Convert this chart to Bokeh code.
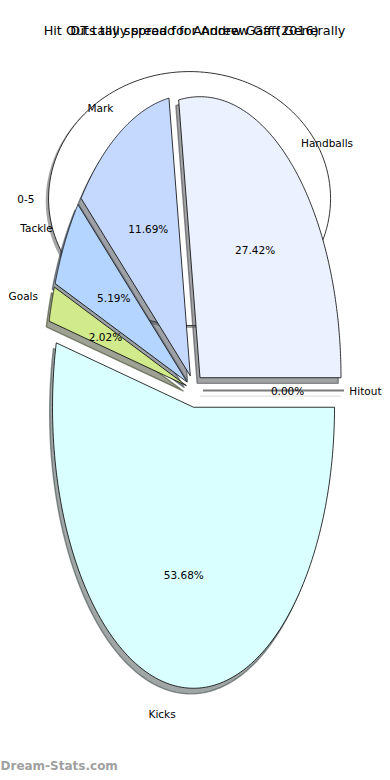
import numpy as np
from bokeh.plotting import figure
from bokeh.models import ColumnDataSource, Range1d, Label
from bokeh.embed import file_html
from bokeh.resources import INLINE
from bokeh.core.properties import value

# ---------------- data ----------------
categories = ["Handballs", "Mark", "Tackle", "Goals", "Kicks", "Hitout"]
shares = [27.42, 11.69, 5.19, 2.02, 53.68, 0.00]
colors = ["#EBF1FF", "#C5D9FF", "#B4D5FF", "#D0EA8C", "#DAFFFF", "#DDDDDD"]

back_categories = ["0-5"]
back_shares = [100.0]
back_colors = ["#FFFFFF"]

title_main = "DT tally spread for Andrew Gaff (2016)"
title_other = "Hit Outs tally spread for Andrew Gaff Generally"
watermark = "Dream-Stats.com"

# ---------------- layout constants ----------------
W, H = 382, 772
PX_X, PX_Y = 141.0, 281.0      # pixels per pie-radius unit
CX_PX, CY_PX = 194.0, 390.0    # main pie centre on the canvas
EXPLODE = 0.06
SHADOW = 0.02
LABEL_D = 1.1
PCT_D = 0.6
FONT = "DejaVu Sans"
X0, X1 = -CX_PX / PX_X, (W - CX_PX) / PX_X
Y1, Y0 = CY_PX / PX_Y, -(H - CY_PX) / PX_Y

# back pie (second chart drawn on same canvas)
BCX, BCY, BRX, BRY = -0.035, 0.683, 1.0, 0.452


def wedge_xy(cx, cy, rx, ry, t1, t2, n=160):
    t = np.radians(np.linspace(t1, t2, n))
    xs = cx + rx * np.cos(t)
    ys = cy + ry * np.sin(t)
    if abs((t2 - t1) - 360) < 1e-9:
        return list(xs), list(ys)
    return [cx] + list(xs) + [cx], [cy] + list(ys) + [cy]


def shade(hexcol):
    h = hexcol.lstrip("#")
    r, g, b = (int(h[i:i + 2], 16) for i in (0, 2, 4))
    return "#%02x%02x%02x" % (int(r * 0.3), int(g * 0.3), int(b * 0.3))


p = figure(width=W, height=H, output_backend="svg", toolbar_location=None,
           x_range=Range1d(X0, X1), y_range=Range1d(Y0, Y1),
           min_border=0)
p.axis.visible = False
p.grid.visible = False
p.outline_line_color = None
p.background_fill_color = "white"
p.border_fill_color = "white"

# ---------------- back pie ----------------
b_tot = sum(back_shares)
bxs, bys, bsx, bsy, bcol, bsh = [], [], [], [], [], []
blab = dict(x=[], y=[], t=[])
ang = 0.0
for cat, v, c in zip(back_categories, back_shares, back_colors):
    span = 360.0 * v / b_tot
    t1, t2 = ang, ang + span
    xs, ys = wedge_xy(BCX, BCY, BRX, BRY, t1, t2)
    bxs.append(xs); bys.append(ys)
    bsx.append([x - SHADOW * BRX for x in xs]); bsy.append([y - SHADOW * BRY for y in ys])
    bcol.append(c); bsh.append(shade(c))
    mid = np.radians((t1 + t2) / 2)
    blab["x"].append(BCX + LABEL_D * BRX * np.cos(mid))
    blab["y"].append(BCY + LABEL_D * BRY * np.sin(mid))
    blab["t"].append(cat)
    ang = t2

p.patches(bsx, bsy, fill_color=bsh, fill_alpha=0.5, line_color=None)
p.patches(bxs, bys, fill_color=bcol, line_color="black", line_width=0.8)
p.text(x=blab["x"], y=blab["y"], text=blab["t"], text_align="right", text_baseline="middle",
       text_font=value(FONT), text_font_size=value("10.5px"), text_color="black")

# ---------------- main pie ----------------
tot = sum(shares)
mxs, mys, msx, msy, mcol, msh, medge, mlw, mshl = [], [], [], [], [], [], [], [], []
lab_l = dict(x=[], y=[], t=[])
lab_r = dict(x=[], y=[], t=[])
pct = dict(x=[], y=[], t=[])
ang = 0.0
for cat, v, c in zip(categories, shares, colors):
    span = 360.0 * v / tot
    t1, t2 = ang, ang + span
    mid = np.radians((t1 + t2) / 2)
    cx = EXPLODE * np.cos(mid)
    cy = EXPLODE * np.sin(mid)
    xs, ys = wedge_xy(cx, cy, 1.0, 1.0, t1, t2)
    mxs.append(xs); mys.append(ys)
    msx.append([x - SHADOW for x in xs]); msy.append([y - SHADOW for y in ys])
    mcol.append(c); msh.append(shade(c))
    zero = span == 0
    medge.append("#7a7a7a" if zero else "black")
    mlw.append(1.8 if zero else 0.8)
    mshl.append("#cfcfcf" if zero else shade(c))
    lx = cx + LABEL_D * np.cos(mid)
    ly = cy + LABEL_D * np.sin(mid)
    if lx > 0:
        est_w = len(cat) * 6.0 / PX_X          # rough text width in data units
        if lx + est_w > X1 - 1.0 / PX_X:       # keep label inside the canvas
            lab_r["x"].append(X1 - 1.0 / PX_X); lab_r["y"].append(ly); lab_r["t"].append(cat)
        else:
            lab_l["x"].append(lx); lab_l["y"].append(ly); lab_l["t"].append(cat)
    else:
        lab_r["x"].append(lx); lab_r["y"].append(ly); lab_r["t"].append(cat)
    pct["x"].append(cx + PCT_D * np.cos(mid))
    pct["y"].append(cy + PCT_D * np.sin(mid))
    pct["t"].append("%.2f%%" % v)
    ang = t2

shadow_src = ColumnDataSource(dict(xs=msx, ys=msy, fc=msh, lc=mshl))
wedge_src = ColumnDataSource(dict(xs=mxs, ys=mys, fc=mcol, lc=medge, lw=mlw))
p.patches("xs", "ys", source=shadow_src, fill_color="fc", fill_alpha=0.5,
          line_color="lc", line_alpha=0.6, line_width=1.4)
p.patches("xs", "ys", source=wedge_src, fill_color="fc", line_color="lc", line_width="lw")

p.text(x=lab_l["x"], y=lab_l["y"], text=lab_l["t"], text_align="left", text_baseline="middle",
       text_font=value(FONT), text_font_size=value("10.5px"), text_color="black")
p.text(x=lab_r["x"], y=lab_r["y"], text=lab_r["t"], text_align="right", text_baseline="middle",
       text_font=value(FONT), text_font_size=value("10.5px"), text_color="black")
p.text(x=pct["x"], y=pct["y"], text=pct["t"], text_align="center", text_baseline="middle",
       text_font=value(FONT), text_font_size=value("10.5px"), text_color="black")

# ---------------- titles (two overlapping) ----------------
TY = (CY_PX - 30) / PX_Y
p.text(x=[0.0, 0.0], y=[TY, TY], text=[title_other, title_main], text_align="center",
       text_baseline="middle", text_font=value(FONT), text_font_size=value("12.8px"),
       text_color="black")

p.add_layout(Label(x=0, y=0, x_units="screen", y_units="screen", text=watermark,
                   text_font=FONT, text_font_size="12px", text_font_style="bold",
                   text_color="#a0a0a0", text_baseline="bottom"))

open("out.html", "w").write(file_html(p, INLINE))
